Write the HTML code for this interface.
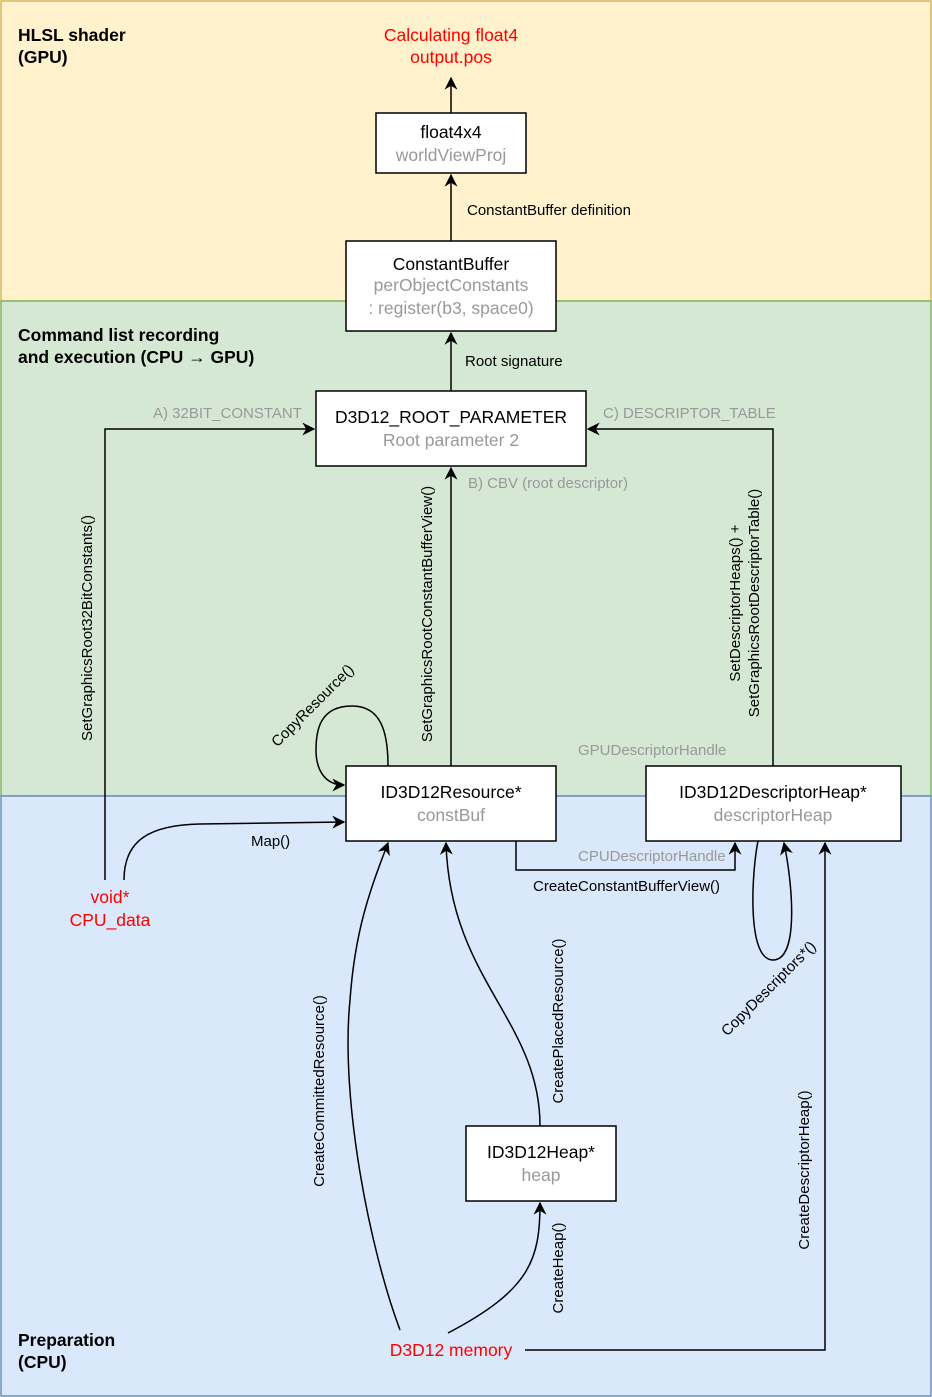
<!DOCTYPE html>
<html><head><meta charset="utf-8"><style>
html,body{margin:0;padding:0;background:#fff}
svg{display:block;font-family:"Liberation Sans",Arial,sans-serif}
</style></head><body>
<svg width="932" height="1397" viewBox="0 0 932 1397" xmlns="http://www.w3.org/2000/svg">
<defs>
<marker id="a" viewBox="0 0 10 10" refX="9" refY="5" markerWidth="13" markerHeight="13" markerUnits="userSpaceOnUse" orient="auto">
<path d="M0,0 L10,5 L0,10 L3,5 Z" fill="#000"/></marker>
</defs>
<rect x="1" y="1" width="930" height="300" fill="#fff2cc" stroke="#d6b656" stroke-width="1.5"/>
<rect x="1" y="301" width="930" height="495" fill="#d5e8d4" stroke="#82b366" stroke-width="1.5"/>
<rect x="1" y="796" width="930" height="600" fill="#dae8fc" stroke="#6c8ebf" stroke-width="1.5"/>

<g font-size="17.5" font-weight="bold" fill="#000">
<text x="18" y="41">HLSL shader</text><text x="18" y="63">(GPU)</text>
<text x="18" y="341">Command list recording</text><text x="18" y="363">and execution (CPU → GPU)</text>
<text x="18" y="1346">Preparation</text><text x="18" y="1368">(CPU)</text>
</g>

<g fill="none" stroke="#000" stroke-width="1.5">
<path d="M451,113 V78" marker-end="url(#a)"/>
<path d="M451,241 V175" marker-end="url(#a)"/>
<path d="M451,391 V333" marker-end="url(#a)"/>
<path d="M105,880 V429 H314" marker-end="url(#a)"/>
<path d="M451,766 V468" marker-end="url(#a)"/>
<path d="M773,766 V429 H588" marker-end="url(#a)"/>
<path d="M388,766 C388,730 380,706 352,706 C320,706 316,730 316,750 C316,770 325,785 344,785" marker-end="url(#a)"/>
<path d="M124,880 C124,840 150,825 200,824 L344,822" marker-end="url(#a)"/>
<path d="M516,841 V870 H735 V843" marker-end="url(#a)"/>
<path d="M758,841 C752,870 746,960 773,960 C800,960 792,880 784,843" marker-end="url(#a)"/>
<path d="M525,1350 H825 V843" marker-end="url(#a)"/>
<path d="M400,1330 C370,1250 340,1100 350,1000 C355,930 370,890 388,843" marker-end="url(#a)"/>
<path d="M540,1126 C540,1020 450,980 446,843" marker-end="url(#a)"/>
<path d="M448,1333 C530,1290 540,1260 540,1203" marker-end="url(#a)"/>
</g>

<g fill="#fff" stroke="#000" stroke-width="1.5">
<rect x="376" y="113" width="150" height="60"/>
<rect x="346" y="241" width="210" height="90"/>
<rect x="316" y="391" width="270" height="75"/>
<rect x="346" y="766" width="210" height="75"/>
<rect x="646" y="766" width="255" height="75"/>
<rect x="466" y="1126" width="150" height="75"/>
</g>

<g font-size="17.5" text-anchor="middle">
<text x="451" y="41" fill="#ff0000">Calculating float4</text>
<text x="451" y="63" fill="#ff0000">output.pos</text>
<text x="451" y="138" fill="#000">float4x4</text>
<text x="451" y="161" fill="#999">worldViewProj</text>
<text x="451" y="270" fill="#000">ConstantBuffer</text>
<text x="451" y="291" fill="#999">perObjectConstants</text>
<text x="451" y="314" fill="#999">: register(b3, space0)</text>
<text x="451" y="423" fill="#000">D3D12_ROOT_PARAMETER</text>
<text x="451" y="446" fill="#999">Root parameter 2</text>
<text x="451" y="798" fill="#000">ID3D12Resource*</text>
<text x="451" y="821" fill="#999">constBuf</text>
<text x="773" y="798" fill="#000">ID3D12DescriptorHeap*</text>
<text x="773" y="821" fill="#999">descriptorHeap</text>
<text x="541" y="1158" fill="#000">ID3D12Heap*</text>
<text x="541" y="1181" fill="#999">heap</text>
<text x="110" y="903" fill="#ff0000">void*</text>
<text x="110" y="926" fill="#ff0000">CPU_data</text>
<text x="451" y="1356" fill="#ff0000">D3D12 memory</text>
</g>

<g font-size="15">
<text x="467" y="215" fill="#000">ConstantBuffer definition</text>
<text x="465" y="366" fill="#000">Root signature</text>
<text x="153" y="418" fill="#999">A) 32BIT_CONSTANT</text>
<text x="603" y="418" fill="#999">C) DESCRIPTOR_TABLE</text>
<text x="468" y="488" fill="#999">B) CBV (root descriptor)</text>
<text x="578" y="755" fill="#999">GPUDescriptorHandle</text>
<text x="578" y="861" fill="#999">CPUDescriptorHandle</text>
<text x="533" y="891" fill="#000">CreateConstantBufferView()</text>
<text x="251" y="846" fill="#000">Map()</text>
</g>

<g font-size="15" fill="#000" text-anchor="middle">
<text transform="translate(92,628) rotate(-90)">SetGraphicsRoot32BitConstants()</text>
<text transform="translate(432,614) rotate(-90)">SetGraphicsRootConstantBufferView()</text>
<text transform="translate(740,603) rotate(-90)">SetDescriptorHeaps() +</text>
<text transform="translate(759,603) rotate(-90)">SetGraphicsRootDescriptorTable()</text>
<text transform="translate(324,1091) rotate(-90)">CreateCommittedResource()</text>
<text transform="translate(563,1021) rotate(-90)">CreatePlacedResource()</text>
<text transform="translate(563,1268) rotate(-90)">CreateHeap()</text>
<text transform="translate(809,1170) rotate(-90)">CreateDescriptorHeap()</text>
<text transform="translate(316,709) rotate(-45)">CopyResource()</text>
<text transform="translate(772,992) rotate(-45)">CopyDescriptors*()</text>
</g>
</svg>
</body></html>
